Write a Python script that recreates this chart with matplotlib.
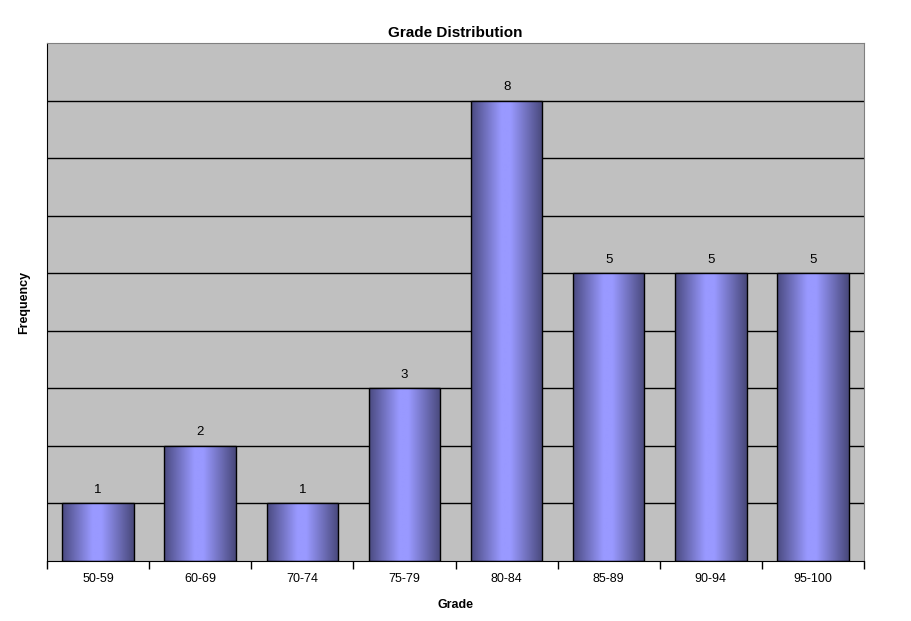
import matplotlib
matplotlib.use("Agg")
import matplotlib.pyplot as plt
import numpy as np
from matplotlib.colors import LinearSegmentedColormap

categories = ["50-59", "60-69", "70-74", "75-79", "80-84", "85-89", "90-94", "95-100"]
frequency = [1, 2, 1, 3, 8, 5, 5, 5]

plt.rcParams['font.family'] = ['Liberation Sans', 'DejaVu Sans']

fig = plt.figure(figsize=(9.11, 6.21), dpi=100)
ax = fig.add_axes([47/911, 60/621, 817/911, 518/621])
ax.set_facecolor("#C0C0C0")

x = np.arange(len(categories))
bars = ax.bar(x, frequency, width=0.7, color="none", edgecolor="black", linewidth=1.0, zorder=3)

cmap = LinearSegmentedColormap.from_list("grad", [(0.0, "#4A4A80"), (0.42, "#9999FF"), (0.55, "#9999FF"), (1.0, "#48487A")])
grad = np.linspace(0, 1, 256).reshape(1, -1)
for b in bars:
    x0, y0 = b.get_x(), b.get_y()
    w, h = b.get_width(), b.get_height()
    im = ax.imshow(grad, cmap=cmap, aspect="auto", extent=(x0, x0 + w, y0, y0 + h), zorder=2, interpolation="bilinear")
    im.set_clip_path(b)

for xi, v in zip(x, frequency):
    ax.text(xi, v + 0.13, str(v), ha="center", va="bottom", fontsize=9.5)

ax.set_xlim(-0.5, len(categories) - 0.5)
ax.set_ylim(0, 9)
ax.set_yticks([])
for yv in range(1, 9):
    ax.axhline(yv, color="black", linewidth=1.0, zorder=1)

ax.set_xticks(np.arange(-0.5, len(categories)), minor=False)
ax.set_xticklabels([])
ax.set_xticks(x, minor=True)
ax.set_xticklabels(categories, minor=True, fontsize=9)
ax.tick_params(axis="x", which="major", length=6, width=1, direction="out", color="black")
ax.tick_params(axis="x", which="minor", length=0, pad=9)

for s in ["top", "right"]:
    ax.spines[s].set_color("#808080")
for s in ["left", "bottom"]:
    ax.spines[s].set_color("black")

ax.set_title("Grade Distribution", fontsize=11, fontweight="bold", pad=4)
ax.set_xlabel("Grade", fontsize=9, fontweight="bold", labelpad=10)
ax.set_ylabel("Frequency", fontsize=9, fontweight="bold", labelpad=12)

fig.savefig("out.png", dpi=100, facecolor="white")
